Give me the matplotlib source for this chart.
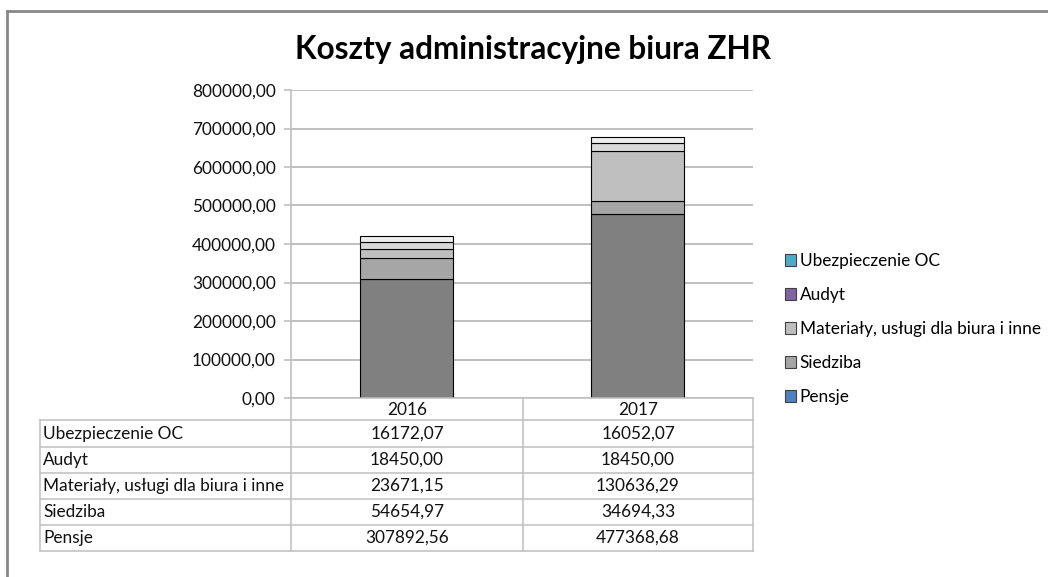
import matplotlib.pyplot as plt
from matplotlib.patches import Patch
from matplotlib.lines import Line2D

# DANE
lata = ["2016", "2017"]
kategorie = ["Pensje", "Siedziba", "Materiały, usługi dla biura i inne", "Audyt", "Ubezpieczenie OC"]
wartosci = {
    "Pensje": [307892.56, 477368.68],
    "Siedziba": [54654.97, 34694.33],
    "Materiały, usługi dla biura i inne": [23671.15, 130636.29],
    "Audyt": [18450.00, 18450.00],
    "Ubezpieczenie OC": [16172.07, 16052.07],
}
kolory_slupkow = ["#808080", "#a6a6a6", "#bfbfbf", "#d9d9d9", "#ededed"]
kolory_legendy = ["#4f81bd", "#a5a5a5", "#bfbfbf", "#8064a2", "#4bacc6"]

W, H = 1048, 577
plt.rcParams["font.family"] = ["Lato", "DejaVu Sans"]
FS = 12.4


def fx(px):
    return px / W


def fy(py):
    return 1 - py / H


def fmt(v):
    return f"{v:.2f}".replace(".", ",")


fig = plt.figure(figsize=(W / 100, H / 100), dpi=100)
ax = fig.add_axes([fx(291), fy(398), fx(753) - fx(291), fy(90) - fy(398)])

# SŁUPKI
dol = [0.0, 0.0]
for kat, kol in zip(kategorie, kolory_slupkow):
    ax.bar(range(len(lata)), wartosci[kat], bottom=dol, width=0.4,
           color=kol, edgecolor="#000000", linewidth=0.8, zorder=3)
    dol = [d + v for d, v in zip(dol, wartosci[kat])]

ax.set_xlim(-0.5, 1.5)
ax.set_ylim(0, 800000)
ax.set_yticks(range(0, 800001, 100000))
ax.set_yticklabels([fmt(t) for t in range(0, 800001, 100000)], fontsize=FS, color="#111111")
ax.set_xticks([])
ax.grid(axis="y", color="#bfbfbf", linewidth=1.4, zorder=0)
for s in ["top", "right", "bottom"]:
    ax.spines[s].set_visible(False)
ax.spines["left"].set_color("#bfbfbf")
ax.spines["left"].set_linewidth(1.2)
ax.tick_params(axis="y", length=5, color="#bfbfbf", width=1.2, pad=6)

# TYTUŁ
fig.text(fx(533), fy(50), "Koszty administracyjne biura ZHR", ha="center", va="center",
         fontsize=22.7, fontweight="bold", color="#000000")

# TABELA DANYCH
kol_x = [40, 291, 523, 753]
wiersze_y = [398, 420, 447, 473, 499, 525, 551]
kolor_linii = "#bfbfbf"


def linia(x0, y0, x1, y1):
    fig.add_artist(Line2D([fx(x0), fx(x1)], [fy(y0), fy(y1)], color=kolor_linii, linewidth=1.1))


# nagłówek
linia(291, 398, 753, 398)
for i, rok in enumerate(lata):
    fig.text(fx((kol_x[i + 1] + kol_x[i + 2]) / 2), fy(410), rok, ha="center", va="center",
             fontsize=FS, color="#111111")
for x in kol_x[1:]:
    linia(x, 398, x, 551)
linia(40, 420, 40, 551)
for y in wiersze_y[1:]:
    linia(40, y, 753, y)

for r, kat in enumerate(kategorie[::-1]):
    yc = (wiersze_y[r + 1] + wiersze_y[r + 2]) / 2
    fig.text(fx(43), fy(yc), kat, ha="left", va="center", fontsize=FS, color="#111111")
    for i in range(len(lata)):
        fig.text(fx((kol_x[i + 1] + kol_x[i + 2]) / 2), fy(yc), fmt(wartosci[kat][i]),
                 ha="center", va="center", fontsize=FS, color="#111111")

# LEGENDA
uchwyty = [Patch(facecolor=k, edgecolor="#404040", linewidth=0.8) for k in kolory_legendy[::-1]]
fig.legend(uchwyty, kategorie[::-1], loc="upper left", bbox_to_anchor=(fx(778), fy(246)),
           frameon=False, fontsize=FS, handlelength=0.65, handleheight=0.65,
           handletextpad=0.2, labelspacing=1.05, borderaxespad=0)

# RAMKA
fig.add_artist(Line2D([fx(7), 1], [fy(10.5), fy(10.5)], color="#888888", linewidth=2))
fig.add_artist(Line2D([fx(7), fx(7)], [fy(10.5), 0], color="#888888", linewidth=2))

fig.savefig("out.png", dpi=100, facecolor="white")
